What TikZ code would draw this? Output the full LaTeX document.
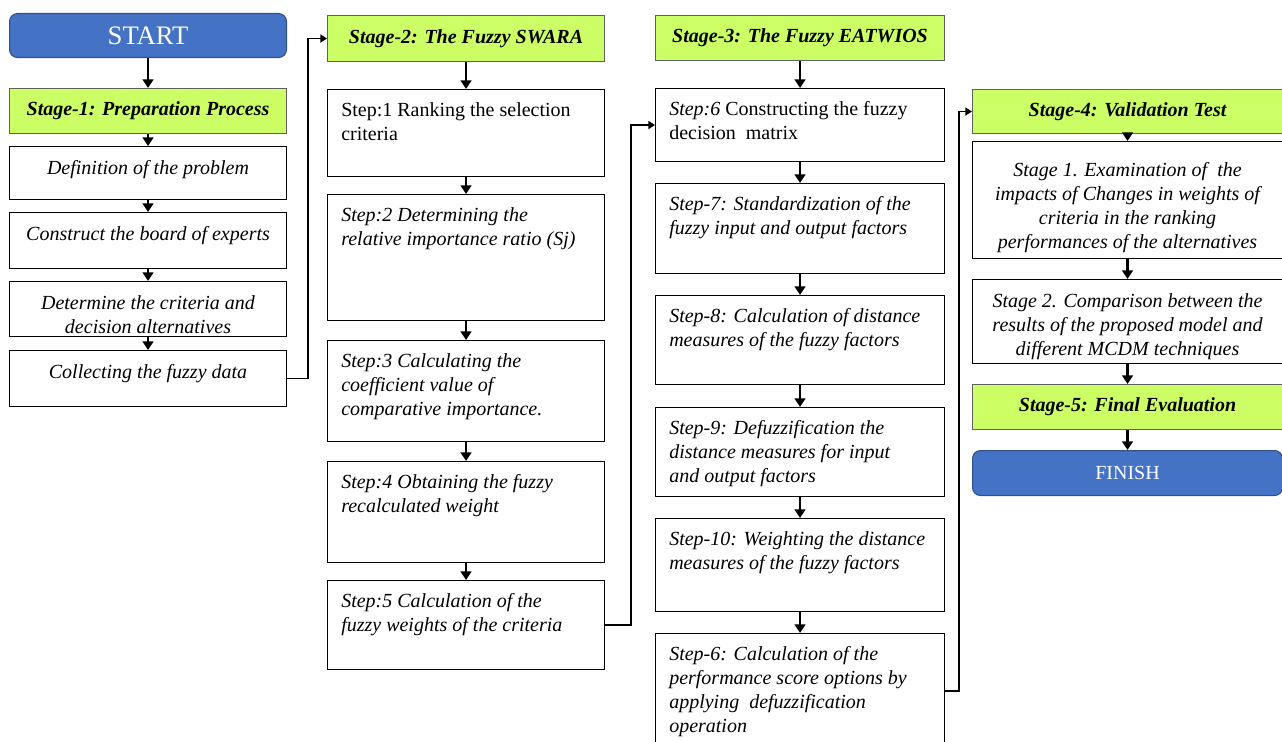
\documentclass[tikz,border=0pt]{standalone}
\usepackage{fontspec}
\setmainfont{Liberation Serif}
\usetikzlibrary{arrows.meta}

\definecolor{startblue}{HTML}{4472C4}
\definecolor{stagegreen}{HTML}{CCFF66}

\tikzset{
  stepbox/.style={draw, line width=0.8pt, anchor=north west, inner sep=0pt, fill=white},
  stagebox/.style={stepbox, fill=stagegreen, draw=gray!75!black,
    font=\fontsize{15}{18}\selectfont\bfseries\itshape},
  endbox/.style={stepbox, rounded corners=6pt, fill=startblue, draw=startblue!70!black, text=white},
  steptext/.style={anchor=north west, align=left, inner xsep=10.5pt, inner ysep=10pt,
    font=\fontsize{15}{18}\selectfont\itshape},
  midtext/.style={anchor=north, align=center, inner sep=10.5pt,
    font=\fontsize{15}{18}\selectfont\itshape},
  arr/.style={-{Triangle[length=6.5pt,width=8pt]}, line width=1.7pt},
  elbow/.style={-{Triangle[length=5pt,width=6pt]}, line width=1.2pt},
  w1/.style={minimum width=207.75pt},
  w3/.style={minimum width=216.75pt},
  w4/.style={minimum width=232.5pt}
}

\begin{document}
\begin{tikzpicture}[x=0.75pt, y=-0.75pt]
  \useasboundingbox (0,0) rectangle (1282,742);

  % stage 1
  \node[endbox, w1, minimum height=33pt, font=\fontsize{20}{24}\selectfont] (start) at (9,13) {START};
  \node[stagebox, w1, minimum height=33.75pt] (stg1) at (9,88) {Stage-1: Preparation Process};
  \node[stepbox, w1, minimum height=39.75pt, label={[midtext]north:{Definition of the problem}}] (def) at (9,146) {};
  \node[stepbox, w1, minimum height=42pt, label={[midtext]north:{Construct the board of experts}}] (board) at (9,212) {};
  \node[stepbox, w1, minimum height=41.25pt, label={[midtext]north:{Determine the criteria and\\decision alternatives}}] (crit) at (9,281) {};
  \node[stepbox, w1, minimum height=42pt, label={[midtext]north:{Collecting the fuzzy data}}] (coll) at (9,350) {};

  % stage 2
  \node[stagebox, w1, minimum height=34.5pt] (stg2) at (327,15) {Stage-2: The Fuzzy SWARA};
  \node[stepbox, w1, minimum height=65.25pt, label={[steptext, font=\fontsize{15}{18}\selectfont\upshape]north west:{Step:1 Ranking the selection\\criteria}}] (s1) at (327,89) {};
  \node[stepbox, w1, minimum height=94.5pt, label={[steptext]north west:{Step:2 Determining the\\relative importance ratio (Sj)}}] (s2) at (327,194) {};
  \node[stepbox, w1, minimum height=75.75pt, label={[steptext]north west:{Step:3 Calculating the\\coefficient value of\\comparative importance.}}] (s3) at (327,340) {};
  \node[stepbox, w1, minimum height=75.75pt, label={[steptext]north west:{Step:4 Obtaining the fuzzy\\recalculated weight}}] (s4) at (327,461) {};
  \node[stepbox, w1, minimum height=66.75pt, label={[steptext]north west:{Step:5 Calculation of the\\fuzzy weights of the criteria}}] (s5) at (327,580) {};

  % stage 3
  \node[stagebox, w3, minimum height=33.75pt] (stg3) at (655,15) {Stage-3: The Fuzzy EATWIOS};
  \node[stepbox, w3, minimum height=54.75pt, label={[steptext]north west:{Step:6 \upshape Constructing the fuzzy\\\upshape decision~ matrix}}] (s6) at (655,88) {};
  \node[stepbox, w3, minimum height=67.5pt, label={[steptext]north west:{Step-7: Standardization of the\\fuzzy input and output factors}}] (s7) at (655,183) {};
  \node[stepbox, w3, minimum height=66.75pt, label={[steptext]north west:{Step-8: Calculation of distance\\measures of the fuzzy factors}}] (s8) at (655,295) {};
  \node[stepbox, w3, minimum height=66.75pt, label={[steptext]north west:{Step-9: Defuzzification the\\distance measures for input\\and output factors}}] (s9) at (655,407) {};
  \node[stepbox, w3, minimum height=69.75pt, label={[steptext]north west:{Step-10: Weighting the distance\\measures of the fuzzy factors}}] (s10) at (655,518) {};
  \node[stepbox, w3, minimum height=86.25pt, label={[steptext]north west:{Step-6: Calculation of the\\performance score options by\\applying~ defuzzification\\operation}}] (score) at (655,633) {};

  % stage 4 and 5
  \node[stagebox, w4, minimum height=33pt] (stg4) at (972,89) {Stage-4: Validation Test};
  \node[stepbox, w4, minimum height=87.75pt, label={[midtext, inner sep=16pt]north:{Stage 1. Examination of~ the\\impacts of Changes in weights of\\criteria in the ranking\\performances of the alternatives}}] (val1) at (972,141) {};
  \node[stepbox, w4, minimum height=63pt, label={[midtext]north:{Stage 2. Comparison between the\\results of the proposed model and\\different MCDM techniques}}] (val2) at (972,279) {};
  \node[stagebox, w4, minimum height=33.75pt] (stg5) at (972,384) {Stage-5: Final Evaluation};
  \node[endbox, w4, minimum height=33.75pt, font=\fontsize{15}{18}\selectfont] (finish) at (972,450) {FINISH};

  % arrows
  \draw[arr] (start) -- (stg1);
  \draw[arr] (stg1) -- (def);
  \draw[arr] (def) -- (board);
  \draw[arr] (board) -- (crit);
  \draw[arr] (crit) -- (coll);
  \draw[elbow] (coll.east) -- ++(21,0) |- (stg2.west);

  \draw[arr] (stg2) -- (s1);
  \draw[arr] (s1) -- (s2);
  \draw[arr] (s2) -- (s3);
  \draw[arr] (s3) -- (s4);
  \draw[arr] (s4) -- (s5);
  \draw[elbow] (s5.east) -- ++(26,0) |- (s6.west);

  \draw[arr] (stg3) -- (s6);
  \draw[arr] (s6) -- (s7);
  \draw[arr] (s7) -- (s8);
  \draw[arr] (s8) -- (s9);
  \draw[arr] (s9) -- (s10);
  \draw[arr] (s10) -- (score);
  \draw[elbow] (score.east) -- ++(14,0) |- (stg4.west);

  \draw[arr] (stg4) -- (val1);
  \draw[arr] (val1) -- (val2);
  \draw[arr] (val2) -- (stg5);
  \draw[arr] (stg5) -- (finish);
\end{tikzpicture}
\end{document}
